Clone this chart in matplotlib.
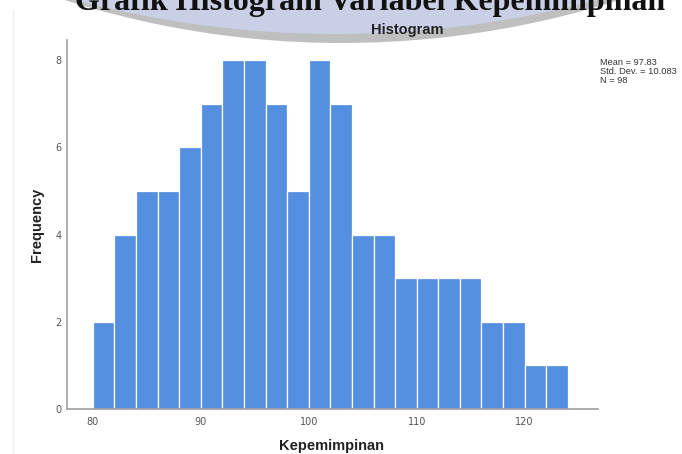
import numpy as np
import matplotlib
matplotlib.use("Agg")
import matplotlib.pyplot as plt
from matplotlib.patches import Circle

# ---------- data ----------
bin_left = [80, 82, 84, 86, 88, 90, 92, 94, 96, 98, 100,
            102, 104, 106, 108, 110, 112, 114, 116, 118, 120, 122]
counts = [2, 4, 5, 5, 6, 7, 8, 8, 7, 5, 8,
          7, 4, 4, 3, 3, 3, 3, 2, 2, 1, 1]
bin_width = 2
x_ticks = [80, 90, 100, 110, 120]
y_ticks = [0, 2, 4, 6, 8]
stats_text = "Mean = 97.83\nStd. Dev. = 10.083\nN = 98"

W, H = 682, 454
fig = plt.figure(figsize=(W / 100, H / 100), dpi=100)
fig.patch.set_facecolor("white")

# ---------- page decoration (pixel coords) ----------
bg = fig.add_axes([0, 0, 1, 1], zorder=0)
bg.set_xlim(0, W)
bg.set_ylim(H, 0)
bg.axis("off")
bg.add_patch(Circle((342, -874), 917, color="#bfbfbf", lw=0))
bg.add_patch(Circle((336, -985), 1019, color="#c9d0e5", lw=0))
bg.plot([13, 13], [10, H], color="#ededed", lw=1)
bg.text(75, 10, "Grafik Histogram Variabel Kepemimpinan", ha="left", va="baseline",
        fontsize=23, fontweight="bold", family="Liberation Serif", color="#111111")

# ---------- histogram ----------
ax = fig.add_axes([67 / W, 1 - 409 / H, (598 - 67) / W, (409 - 40) / H], zorder=1)
ax.patch.set_alpha(0)
ax.bar(bin_left, counts, width=bin_width, align="edge",
       color="#5590e0", edgecolor="white", linewidth=0.9)

ax.set_xlim(77.6, 126.8)
ax.set_ylim(0, 8.46)
ax.set_xticks(x_ticks)
ax.set_yticks(y_ticks)
ax.tick_params(length=0, labelsize=7, colors="#555555")
ax.tick_params(axis="x", pad=6)
ax.tick_params(axis="y", pad=4)
for s in ["top", "right"]:
    ax.spines[s].set_visible(False)
for s in ["left", "bottom"]:
    ax.spines[s].set_color("#a0a0a0")
    ax.spines[s].set_linewidth(1.2)

fig.text(37 / W, 1 - 225 / H, "Frequency", rotation=90, ha="center", va="center",
         fontsize=10.5, fontweight="bold", color="#222222", family="Liberation Sans")
fig.text(332 / W, 1 - 446 / H, "Kepemimpinan", ha="center", va="center",
         fontsize=10.5, fontweight="bold", color="#222222", family="Liberation Sans")
fig.text(407 / W, 1 - 30 / H, "Histogram", ha="center", va="center",
         fontsize=10.5, fontweight="bold", color="#222222", family="Liberation Sans", zorder=3)
fig.text(600 / W, 1 - 58 / H, stats_text, ha="left", va="top", linespacing=1.0,
         fontsize=6.7, color="#333333", family="Liberation Sans")

fig.savefig("out.png", dpi=100)
